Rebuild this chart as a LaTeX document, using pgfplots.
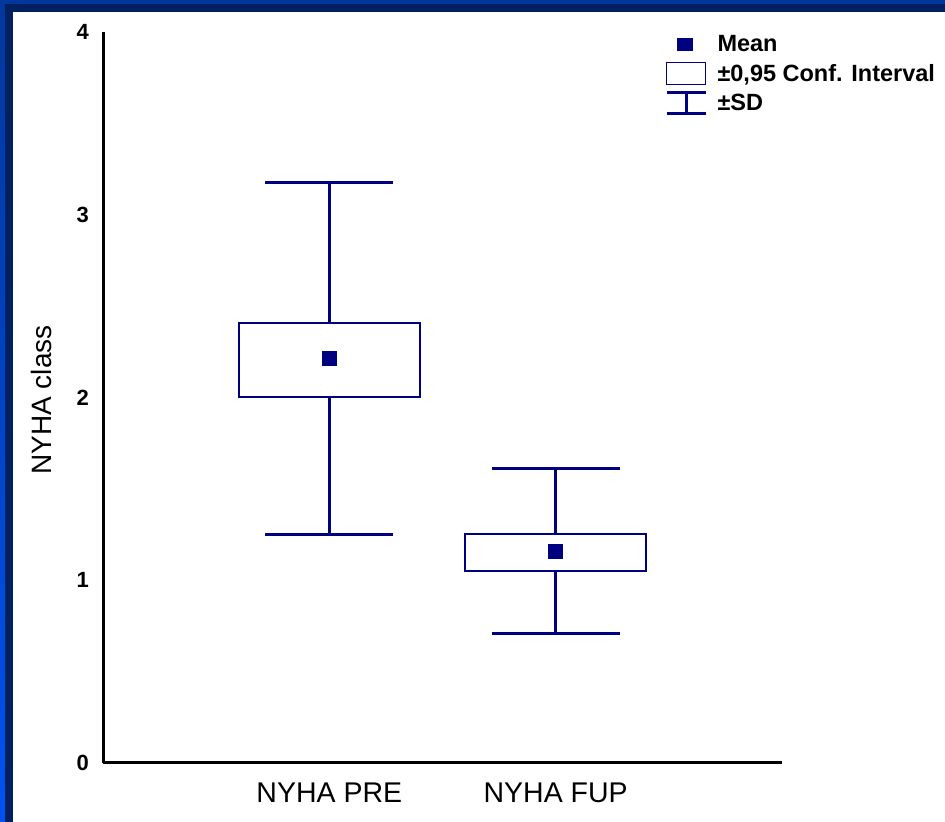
\documentclass[border=0pt]{standalone}
\usepackage{fontspec}
\setmainfont{Liberation Sans}
\usepackage{pgfplots}
\pgfplotsset{compat=1.18}
\usepgfplotslibrary{statistics}
\definecolor{navy}{RGB}{0,0,128}
\definecolor{frameblue}{RGB}{0,56,158}
\definecolor{framebluelow}{RGB}{0,82,240}
\definecolor{framedark}{RGB}{0,32,96}
\begin{document}
\begin{tikzpicture}[x=1bp,y=1bp]
\shade[top color=frameblue, bottom color=framebluelow] (0,0) rectangle (945,822);
\fill[framedark] (5,0) rectangle (945,818);
\fill[white] (13,0) rectangle (945,810);
\begin{axis}[
  at={(103bp,59bp)}, anchor=south west,
  scale only axis, width=679bp, height=731bp,
  xmin=-1, xmax=2, ymin=0, ymax=4,
  enlargelimits=false, clip=false,
  axis x line*=bottom, axis y line*=left,
  axis line style={line width=3bp, -, black},
  major tick length=0pt,
  xtick={0,1}, xticklabels={NYHA PRE, NYHA FUP},
  ytick={0,1,2,3,4}, yticklabels={0,1,2,3,4},
  xticklabel style={font=\fontsize{28.5bp}{32bp}\selectfont, inner sep=0pt, yshift=-20bp},
  yticklabel style={font=\fontsize{22bp}{26bp}\selectfont\bfseries, inner sep=0pt, xshift=-14bp},
  ylabel={NYHA class},
  ylabel style={font=\fontsize{28bp}{32bp}\selectfont, at={(axis description cs:-0.0906,0.4966)}, anchor=center, inner sep=0pt},
  boxplot/draw direction=y,
  legend cell align=left,
  legend style={at={(axis description cs:0.8277,1.0)}, anchor=north west,
    draw=none, fill=none, inner sep=0pt, outer sep=0pt, row sep=5.5bp,
    font=\fontsize{23.5bp}{26bp}\selectfont\bfseries,
    nodes={inner sep=1bp, text height=19bp, text depth=3bp},
    /tikz/every odd column/.style={column sep=9.5bp}},
]
\addplot[forget plot, draw=navy, line width=3bp,
  boxplot prepared={draw position=0, lower whisker=1.248, lower quartile=2.003,
    median=2.216, upper quartile=2.408, upper whisker=3.179,
    box extend=0.8, whisker extend=0.566, draw/median/.code={}},
  boxplot/every box/.style={line width=2bp, fill=white}]
  coordinates {};
\addplot[forget plot, draw=navy, line width=3bp,
  boxplot prepared={draw position=1, lower whisker=0.706, lower quartile=1.051,
    median=1.160, upper quartile=1.253, upper whisker=1.609,
    box extend=0.8, whisker extend=0.566, draw/median/.code={}},
  boxplot/every box/.style={line width=2bp, fill=white}]
  coordinates {};
\addplot[forget plot, only marks, mark=square*, mark size=7bp,
  mark options={draw=navy, fill=navy, line width=0pt}]
  coordinates {(0,2.216) (1,1.160)};
\addlegendimage{legend image code/.code={\fill[navy] (11bp,-6bp) rectangle (26bp,6bp);}}
\addlegendentry{Mean}
\addlegendimage{legend image code/.code={\draw[navy, line width=1.8bp] (0bp,-11bp) rectangle (39bp,11bp);}}
\addlegendentry{±0,95 Conf. Interval}
\addlegendimage{legend image code/.code={\draw[navy, line width=3bp] (0bp,10.5bp) -- (39bp,10.5bp) (19.5bp,10.5bp) -- (19.5bp,-10.5bp) (0bp,-10.5bp) -- (39bp,-10.5bp);}}
\addlegendentry{±SD}
\end{axis}
\pgfresetboundingbox
\path (0,0) rectangle (945,822);
\end{tikzpicture}
\end{document}
